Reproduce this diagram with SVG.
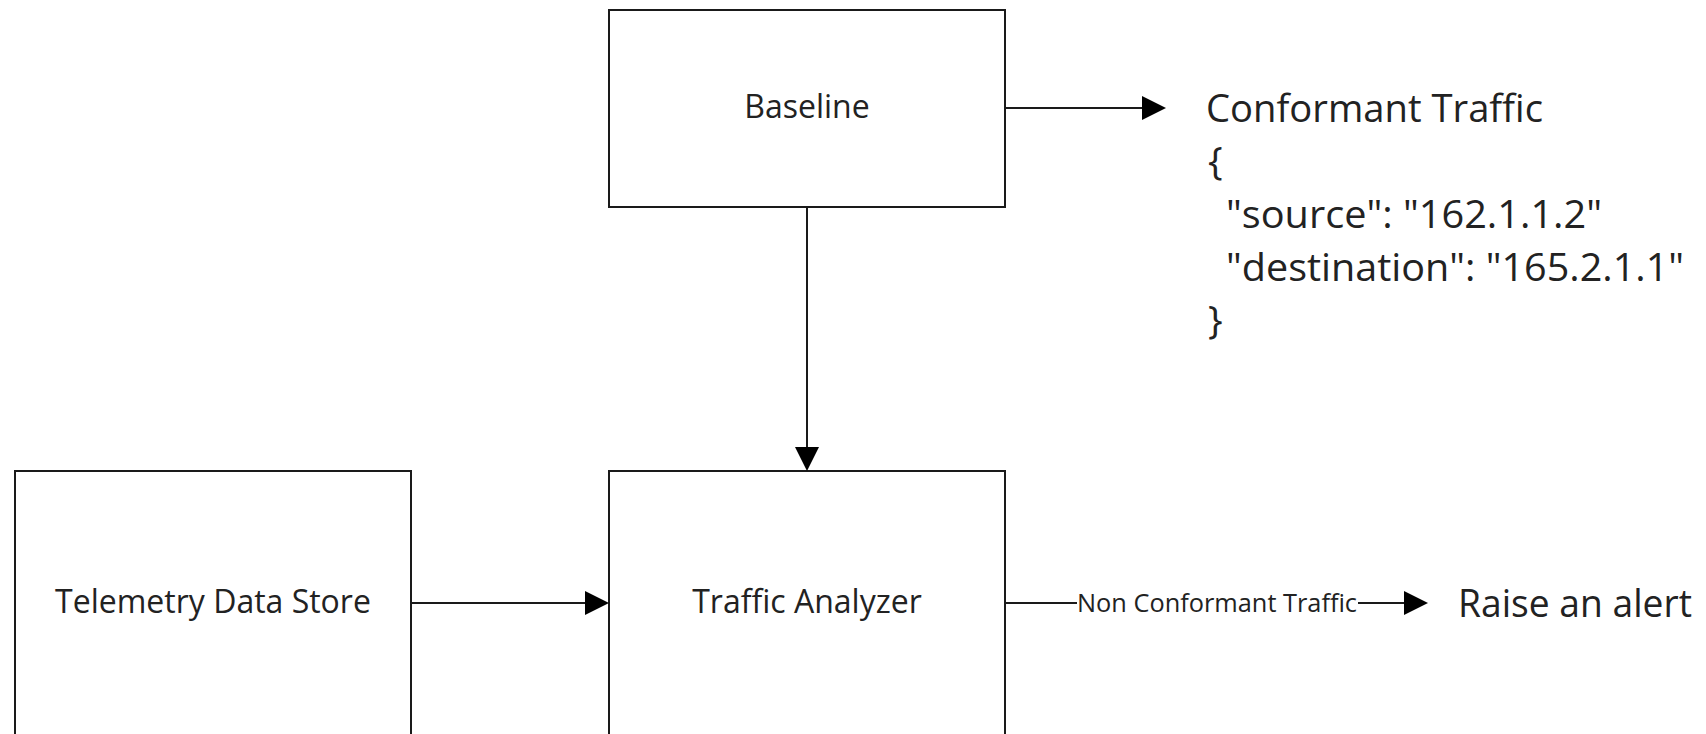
<svg xmlns="http://www.w3.org/2000/svg" width="1706" height="734" viewBox="0 0 1706 734">
  <style>
    .box { fill: #ffffff; stroke: #1a1a1a; stroke-width: 2; }
    .conn { fill: none; stroke: #1a1a1a; stroke-width: 2; }
    .node-label { font-family: "Open Sans", "Liberation Sans", sans-serif; font-size: 32px; fill: #222222; text-anchor: middle; }
    .big { font-family: "Open Sans", "Liberation Sans", sans-serif; font-size: 39px; fill: #222222; }
    .edge-label { font-family: "Open Sans", "Liberation Sans", sans-serif; font-size: 26px; fill: #222222; }
  </style>
  <defs>
    <marker id="arrow" markerUnits="userSpaceOnUse" markerWidth="24" markerHeight="24" viewBox="0 0 24 24" refX="0" refY="12" orient="auto">
      <path d="M0,0 L24,12 L0,24 z" fill="#000000"/>
    </marker>
  </defs>
  <rect x="0" y="0" width="1706" height="734" fill="#ffffff"/>

  <g id="baseline">
    <rect class="box" x="609" y="10" width="396" height="197"/>
    <text class="node-label" x="807" y="118">Baseline</text>
  </g>

  <g id="telemetry-data-store">
    <rect class="box" x="15" y="471" width="396" height="275"/>
    <text class="node-label" x="213" y="613">Telemetry Data Store</text>
  </g>

  <g id="traffic-analyzer">
    <rect class="box" x="609" y="471" width="396" height="275"/>
    <text class="node-label" x="807" y="613">Traffic Analyzer</text>
  </g>

  <g id="conformant-traffic">
    <text class="big" x="1206" y="122" textLength="337" lengthAdjust="spacingAndGlyphs">Conformant Traffic</text>
    <text class="big" x="1208" y="175">{</text>
    <text class="big" x="1226" y="228" textLength="376" lengthAdjust="spacingAndGlyphs">"source": "162.1.1.2"</text>
    <text class="big" x="1226" y="281" textLength="458" lengthAdjust="spacingAndGlyphs">"destination": "165.2.1.1"</text>
    <text class="big" x="1208" y="334">}</text>
  </g>

  <g id="raise-alert">
    <text class="big" x="1458" y="617" textLength="234" lengthAdjust="spacingAndGlyphs">Raise an alert</text>
  </g>

  <g id="connectors">
    <line class="conn" x1="1005" y1="108" x2="1142" y2="108" marker-end="url(#arrow)"/>
    <line class="conn" x1="807" y1="207" x2="807" y2="447" marker-end="url(#arrow)"/>
    <line class="conn" x1="411" y1="603" x2="585" y2="603" marker-end="url(#arrow)"/>
    <g id="edge-non-conformant">
      <line class="conn" x1="1005" y1="603" x2="1404" y2="603" marker-end="url(#arrow)"/>
      <rect x="1077" y="590" width="281" height="26" fill="#ffffff"/>
      <text class="edge-label" x="1077" y="612" textLength="280" lengthAdjust="spacingAndGlyphs">Non Conformant Traffic</text>
    </g>
  </g>
</svg>
